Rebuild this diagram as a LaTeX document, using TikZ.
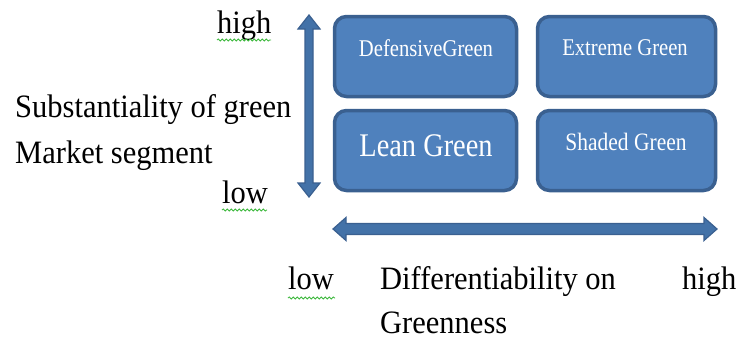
\documentclass[tikz,border=0pt]{standalone}
\usepackage{fontspec}
\setmainfont{Liberation Serif}
\usetikzlibrary{decorations.pathmorphing}
\definecolor{boxfill}{HTML}{4F81BD}
\definecolor{boxline}{HTML}{3A6090}
\definecolor{axisfill}{HTML}{4372A8}
\definecolor{squig}{HTML}{3DB83D}
\newcommand{\biglabel}[1]{\scalebox{1}[1.07]{\fontsize{30.5}{34}\selectfont #1}}
\newcommand{\boxtext}[2]{\scalebox{0.86}[1]{\fontsize{#1}{#1}\selectfont #2}}
\begin{document}
\begin{tikzpicture}[x=1pt,y=-1pt,
  quad/.style={draw=boxline,fill=boxfill,line width=3.5pt,rounded corners=12pt},
  qtext/.style={text=white,inner sep=0pt},
  lbl/.style={anchor=base west,inner sep=0pt,text=black},
  axis/.style={draw=boxline,fill=axisfill,line width=1.2pt,line join=miter},
  spell/.style={draw=squig,line width=0.8pt,decorate,decoration={snake,amplitude=1.1pt,segment length=4pt}}]
\useasboundingbox (0,0) rectangle (739,343);
% quadrant boxes
\draw[quad] (334.5,16.5) rectangle (516.5,96.5);
\draw[quad] (537.5,16.5) rectangle (715.5,96.5);
\draw[quad] (334.5,110.5) rectangle (516.5,190.5);
\draw[quad] (537.5,110.5) rectangle (715.5,190.5);
\node[qtext] (def) at (426,48) {\boxtext{24}{DefensiveGreen}};
\node[qtext] (ext) at (625,48) {\boxtext{24}{Extreme Green}};
\node[qtext] (lean) at (426,146) {\boxtext{33}{Lean Green}};
\node[qtext] (shd) at (626,142) {\boxtext{25}{Shaded Green}};
% vertical double arrow
\draw[axis] (309,15) -- (320,29) -- (313,29) -- (313,183) -- (320,183) -- (309,197)
  -- (298,183) -- (305,183) -- (305,29) -- (298,29) -- cycle;
% horizontal double arrow
\draw[axis] (333,229) -- (346,217.5) -- (346,223.5) -- (704,223.5) -- (704,217.5) -- (717,229)
  -- (704,240.5) -- (704,234.5) -- (346,234.5) -- (346,240.5) -- cycle;
% labels
\node[lbl] (hi1) at (217,33) {\biglabel{high}};
\node[lbl] (sub) at (15,117) {\biglabel{Substantiality of green}};
\node[lbl] (mkt) at (15,163) {\biglabel{Market segment}};
\node[lbl] (lo1) at (222,203) {\biglabel{low}};
\node[lbl] (lo2) at (288,289) {\biglabel{low}};
\node[lbl] (dif) at (380,289) {\biglabel{Differentiability on}};
\node[lbl] (grn) at (380,333) {\biglabel{Greenness}};
\node[lbl] (hi2) at (682,289) {\biglabel{high}};
% spell-check underlines
\draw[spell] (217,40) -- (271,40);
\draw[spell] (222,210) -- (267,210);
\draw[spell] (288,298) -- (335,298);
\end{tikzpicture}
\end{document}
